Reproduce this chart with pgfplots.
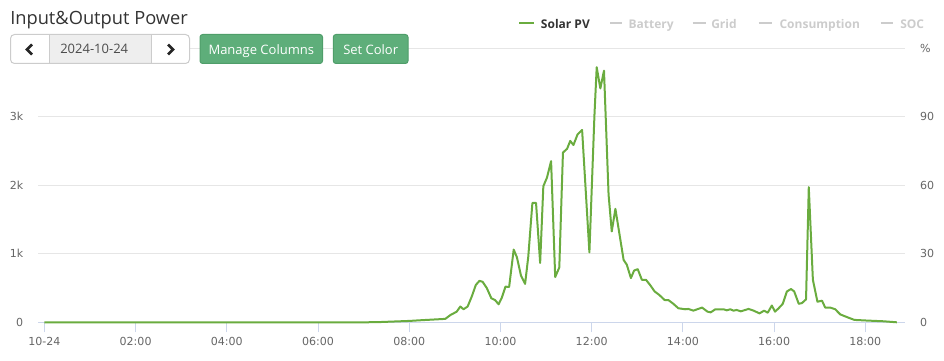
\documentclass[border=0pt]{standalone}
\usepackage{pgfplots}
\pgfplotsset{compat=1.18}
\usepackage{fontspec}
\setmainfont{Open Sans}
\newfontfamily\dejavu{DejaVu Sans}
\definecolor{pv}{HTML}{6AAC3F}
\definecolor{gridc}{HTML}{E6E6E6}
\definecolor{axc}{HTML}{CCD6EB}
\definecolor{lbl}{HTML}{666666}
\definecolor{btn}{HTML}{5EAE7A}
\definecolor{btnb}{HTML}{4F9E6A}
\definecolor{inact}{HTML}{CCCCCC}
\definecolor{ttl}{HTML}{333333}
\definecolor{bordc}{HTML}{CCCCCC}
\definecolor{midc}{HTML}{EEEEEE}
\pgfplotstableread{
h v
0.00 0
1.00 0
2.00 0
3.00 0
4.00 0
5.00 0
6.00 0
7.00 0
7.29 2
8.00 20
8.25 30
8.79 50
8.90 105
9.04 155
9.12 230
9.19 190
9.28 230
9.37 375
9.46 545
9.54 605
9.61 590
9.70 500
9.80 350
9.88 325
9.96 263
10.03 360
10.11 520
10.19 515
10.29 1060
10.36 950
10.45 680
10.54 560
10.61 960
10.70 1740
10.78 1740
10.87 865
10.94 1985
11.02 2110
11.11 2350
11.20 660
11.29 800
11.37 2475
11.46 2530
11.53 2645
11.60 2585
11.69 2740
11.79 2805
11.95 1020
12.06 3010
12.11 3720
12.19 3410
12.27 3670
12.37 1865
12.44 1325
12.52 1655
12.70 910
12.77 840
12.86 645
12.93 755
13.01 775
13.10 620
13.19 620
13.28 545
13.38 450
13.48 400
13.60 325
13.68 325
13.79 270
13.90 205
14.05 190
14.12 195
14.23 170
14.42 215
14.54 155
14.61 145
14.71 190
14.82 190
14.89 190
14.96 175
15.04 190
15.11 170
15.18 180
15.27 160
15.44 195
15.55 170
15.68 130
15.78 170
15.86 140
15.95 245
16.02 155
16.10 205
16.19 270
16.28 450
16.37 485
16.44 450
16.54 270
16.61 280
16.70 335
16.76 1970
16.85 620
16.95 300
17.05 315
17.12 215
17.23 215
17.34 190
17.45 115
17.62 70
17.76 35
18.05 25
18.40 15
18.69 0
}\pvdata
\begin{document}
\begin{tikzpicture}[x=0.75pt,y=-0.75pt]
\path[use as bounding box] (0,0) rectangle (944,360);
\begin{axis}[
 at={(28.5pt,-241.725pt)}, anchor=south west,
 scale only axis, width=650.25pt, height=205.725pt,
 xmin=-0.14, xmax=18.87, ymin=0, ymax=4000,
 axis x line*=bottom, axis y line*=left,
 x axis line style={draw=axc, line width=0.75pt, -},
 y axis line style={draw=none},
 xtick={0,2,...,18},
 xticklabels={10-24,02:00,04:00,06:00,08:00,10:00,12:00,14:00,16:00,18:00},
 ytick={0,1000,2000,3000,4000},
 yticklabels={0,1k,2k,3k,{}},
 ymajorgrids, major grid style={gridc, line width=0.75pt},
 tick align=outside, major tick length=7.5pt,
 xtick style={draw=axc, line width=0.75pt},
 ytick style={draw=none},
 tick label style={font=\dejavu\fontsize{8.3}{10}\selectfont, text=lbl},
 /pgf/number format/assume math mode=true,
 clip=false,
]
\addplot[pv, line width=1.5pt, line join=round] table[x=h,y=v] {\pvdata};
\end{axis}
\begin{axis}[
 at={(28.5pt,-241.725pt)}, anchor=south west,
 scale only axis, width=650.25pt, height=205.725pt,
 xmin=-0.14, xmax=18.87, ymin=0, ymax=120,
 axis x line=none, axis y line*=right,
 y axis line style={draw=none},
 ytick={0,30,60,90,120},
 yticklabels={0,30,60,90,\%},
 ytick style={draw=none},
 major tick length=0pt,
 yticklabel style={font=\dejavu\fontsize{8.3}{10}\selectfont, text=lbl, xshift=7.8pt},
 /pgf/number format/assume math mode=true,
]
\end{axis}
% title
\node[anchor=base west, inner sep=0, text=ttl, font=\fontsize{13.7}{16}\selectfont] at (10,24.3) {Input\&Output Power};
% date picker
\fill[white, rounded corners=3] (10.5,34.5) rectangle (189.5,63.5);
\fill[midc] (49.5,35) rectangle (151,63);
\draw[bordc, line width=0.75pt] (49.5,35) -- (49.5,63) (151,35) -- (151,63);
\draw[bordc, line width=0.75pt, rounded corners=3] (10.5,34.5) rectangle (189.5,63.5);
\draw[black!85, line width=2.1pt] (32,44.5) -- (27,49.5) -- (32,54.5);
\draw[black!85, line width=2.1pt] (168,44.5) -- (173,49.5) -- (168,54.5);
\node[anchor=base west, inner sep=0, text=black!70, font=\fontsize{9.75}{12}\selectfont] at (60,54) {2024-10-24};
% buttons
\draw[btnb, fill=btn, line width=0.75pt, rounded corners=2] (200,34.5) rectangle (322.5,63.5);
\node[anchor=base, inner sep=0, text=white, font=\fontsize{9.75}{12}\selectfont] at (261.3,54.3) {Manage Columns};
\draw[btnb, fill=btn, line width=0.75pt, rounded corners=2] (333.3,34.5) rectangle (408,63.5);
\node[anchor=base, inner sep=0, text=white, font=\fontsize{9.75}{12}\selectfont] at (370.7,54.3) {Set Color};
% legend
\draw[pv, line width=1.5pt] (519,23.3) -- (534.3,23.3);
\node[anchor=base west, inner sep=0, text=ttl, font=\bfseries\fontsize{9}{11}\selectfont] at (540.7,28.3) {Solar PV};
\draw[inact, line width=1.5pt] (610,23.3) -- (622.3,23.3);
\node[anchor=base west, inner sep=0, text=inact, font=\bfseries\fontsize{9}{11}\selectfont] at (628.3,28.3) {Battery};
\draw[inact, line width=1.5pt] (692.7,23.3) -- (705.7,23.3);
\node[anchor=base west, inner sep=0, text=inact, font=\bfseries\fontsize{9}{11}\selectfont] at (711,28.3) {Grid};
\draw[inact, line width=1.5pt] (758.7,23.3) -- (771.7,23.3);
\node[anchor=base west, inner sep=0, text=inact, font=\bfseries\fontsize{9}{11}\selectfont] at (779.3,28.3) {Consumption};
\draw[inact, line width=1.5pt] (880.7,23.3) -- (893.3,23.3);
\node[anchor=base west, inner sep=0, text=inact, font=\bfseries\fontsize{9}{11}\selectfont] at (900,28.3) {SOC};
\end{tikzpicture}
\end{document}
